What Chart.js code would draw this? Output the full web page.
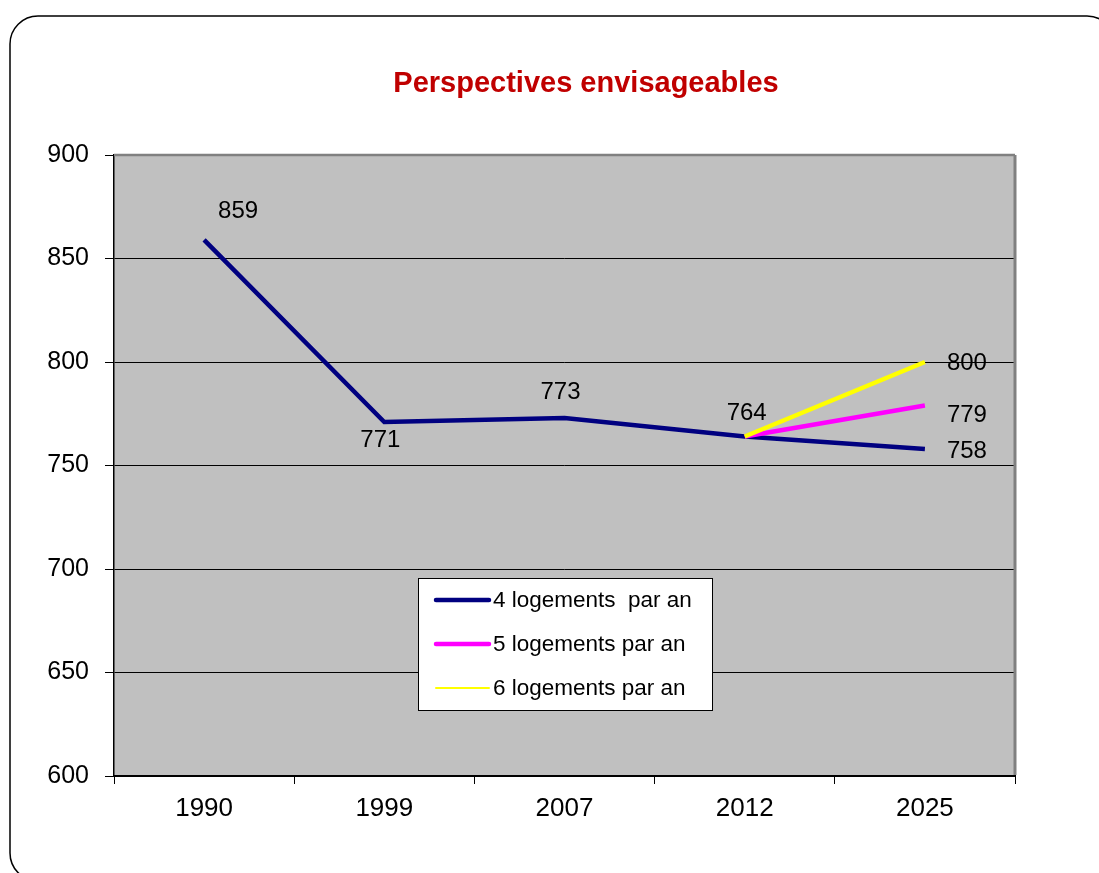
<!DOCTYPE html>
<html>
<head>
<meta charset="utf-8">
<script src="https://cdn.jsdelivr.net/npm/chart.js@4.4.1/dist/chart.umd.min.js"></script>
<style>
  html, body { margin: 0; padding: 0; background: #ffffff; }
  #wrap { width: 1099px; height: 873px; }
</style>
</head>
<body>
<div id="wrap"><canvas id="c" width="1099" height="873"></canvas></div>
<script>
// ---- data ----
const titleText = "Perspectives envisageables";
const categories = ["1990", "1999", "2007", "2012", "2025"];
const series4Label = "4 logements  par an";
const series4 = [859, 771, 773, 764, 758];
const series5Label = "5 logements par an";
const series5 = [null, null, null, 764, 779];
const series6Label = "6 logements par an";
const series6 = [null, null, null, 764, 800];
const yTicks = [600, 650, 700, 750, 800, 850, 900];

const FONT = "'Liberation Sans', Arial, sans-serif";

// label placements (offset from the point, in px) per dataset/index
const labelPlacement = {
  0: {0: [34, -28], 1: [-4, 18], 2: [-4, -26], 3: [2, -23], 4: [42, 2]},
  1: {4: [42, 10]},
  2: {4: [42, 1]}
};

const framePlugin = {
  id: 'frame',
  beforeDraw(chart) {
    const ctx = chart.ctx;
    const a = chart.chartArea;
    ctx.save();
    ctx.fillStyle = '#ffffff';
    ctx.fillRect(0, 0, chart.width, chart.height);
    // rounded outer border
    ctx.strokeStyle = '#000000';
    ctx.lineWidth = 1.5;
    ctx.beginPath();
    ctx.roundRect(10, 16, 1105, 865, 28);
    ctx.stroke();
    // plot background
    ctx.fillStyle = '#C0C0C0';
    ctx.fillRect(a.left, a.top, a.right - a.left, a.bottom - a.top);
    // title
    ctx.fillStyle = '#C00000';
    ctx.font = "bold 29px " + FONT;
    ctx.textAlign = 'center';
    ctx.textBaseline = 'middle';
    ctx.fillText(titleText, 586, 84);
    ctx.restore();
  },
  afterDatasetsDraw(chart) {
    const ctx = chart.ctx;
    const a = chart.chartArea;
    ctx.save();
    // top and right plot borders (gray)
    ctx.strokeStyle = '#808080';
    ctx.lineWidth = 2.5;
    ctx.beginPath();
    ctx.moveTo(a.left, a.top);
    ctx.lineTo(a.right, a.top);
    ctx.stroke();
    ctx.lineWidth = 3;
    ctx.beginPath();
    ctx.moveTo(a.right, a.top);
    ctx.lineTo(a.right, a.bottom - 1);
    ctx.stroke();

    // data labels
    ctx.fillStyle = '#000000';
    ctx.font = "24px " + FONT;
    ctx.textAlign = 'center';
    ctx.textBaseline = 'middle';
    chart.data.datasets.forEach((ds, di) => {
      const meta = chart.getDatasetMeta(di);
      const place = labelPlacement[di] || {};
      meta.data.forEach((pt, i) => {
        const v = ds.data[i];
        if (v === null || !place[i]) return;
        ctx.fillText(String(v), pt.x + place[i][0], pt.y + place[i][1]);
      });
    });

    // legend box
    const lx = 418, ly = 578, lw = 294, lh = 132;
    ctx.fillStyle = '#ffffff';
    ctx.fillRect(lx, ly, lw, lh);
    ctx.strokeStyle = '#000000';
    ctx.lineWidth = 1;
    ctx.strokeRect(lx + 0.5, ly + 0.5, lw, lh);
    const rows = [600, 644, 688];
    const widths = [4.5, 4.5, 2];
    ctx.font = "22.5px " + FONT;
    ctx.textAlign = 'left';
    ctx.textBaseline = 'middle';
    chart.data.datasets.forEach((ds, di) => {
      const y = rows[di];
      ctx.strokeStyle = ds.borderColor;
      ctx.lineWidth = widths[di];
      ctx.lineCap = 'round';
      ctx.beginPath();
      ctx.moveTo(436, y);
      ctx.lineTo(489, y);
      ctx.stroke();
      ctx.fillStyle = '#000000';
      ctx.fillText(ds.label, 493, y + 1);
    });
    ctx.restore();
  }
};

new Chart(document.getElementById('c'), {
  type: 'line',
  data: {
    labels: categories,
    datasets: [
      { label: series4Label, data: series4, borderColor: '#000080', backgroundColor: '#000080', borderWidth: 4.5, pointRadius: 0, tension: 0, order: 2 },
      { label: series5Label, data: series5, borderColor: '#FF00FF', backgroundColor: '#FF00FF', borderWidth: 4.5, pointRadius: 0, tension: 0, order: 1 },
      { label: series6Label, data: series6, borderColor: '#FFFF00', backgroundColor: '#FFFF00', borderWidth: 4.5, pointRadius: 0, tension: 0, order: 0 }
    ]
  },
  options: {
    responsive: false,
    animation: false,
    devicePixelRatio: 1,
    layout: { padding: { left: 0, right: 84, top: 155, bottom: 0 } },
    plugins: {
      legend: { display: false },
      title: { display: false },
      tooltip: { enabled: false }
    },
    scales: {
      x: {
        type: 'category',
        offset: true,
        afterFit(s) { s.height = 97; },
        grid: { offset: true, drawOnChartArea: false, drawTicks: true, tickLength: 8, color: '#000000', lineWidth: 1 },
        border: { display: true, color: '#000000', width: 2 },
        ticks: { color: '#000000', font: { family: FONT, size: 26 }, padding: 9, maxRotation: 0 }
      },
      y: {
        min: 600,
        max: 900,
        afterFit(s) { s.width = 114; },
        afterBuildTicks(s) { s.ticks = yTicks.map(v => ({ value: v })); },
        grid: { color: '#000000', lineWidth: 1, drawTicks: true, tickLength: 9 },
        border: { display: true, color: '#000000', width: 1.5 },
        ticks: { color: '#000000', font: { family: FONT, size: 25 }, padding: 16 }
      }
    }
  },
  plugins: [framePlugin]
});
</script>
</body>
</html>
